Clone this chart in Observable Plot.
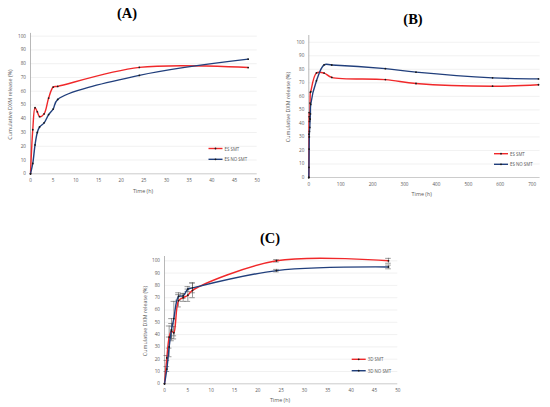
<!DOCTYPE html>
<html><head><meta charset="utf-8">
<script src="https://cdn.jsdelivr.net/npm/d3@7"></script>
<script src="https://cdn.jsdelivr.net/npm/@observablehq/plot@0.6"></script>
<style>
html,body{margin:0;padding:0;background:#fff;}
body{width:550px;height:407px;position:relative;overflow:hidden;font-family:"Open Sans",sans-serif;}
.panel{position:absolute;}
#overlay{position:absolute;left:0;top:0;pointer-events:none;}
</style></head><body>
<script>
// ---------- data ----------
const timeA = [0, 0.5, 1, 1.5, 2, 3, 4, 5, 6, 24, 48];
const esSmtA = [0, 32, 48, 45, 41.5, 43.5, 55, 63, 63.5, 77.3, 77.2];
const esNoSmtA = [0, 7.5, 21, 30, 34, 37, 43, 47, 54, 71.5, 83.3];

const timeB = [0, 0.5, 1, 1.5, 2, 3, 4, 5, 6, 24, 48, 72, 240, 336, 576, 720];
const esSmtB = [0, 32, 48, 45, 41.5, 43.5, 55, 63, 63.5, 77.3, 77.2, 74, 72.4, 69.5, 67.5, 68.6];
const esNoSmtB = [0, 7.5, 21, 30, 34, 37, 43, 47, 54, 71.5, 83.3, 83.2, 80.5, 77.9, 73.7, 72.9];

const timeC = [0, 0.5, 1, 1.5, 2, 3, 4, 5, 6, 24, 48];
const smt3D = [0, 21, 38, 43, 41.5, 67.5, 70, 72, 76, 100, 100];
const noSmt3D = [0, 12, 30, 44, 53, 71, 71.5, 77, 78, 92, 95];
const errSmt3D = [0, 2, 9, 6, 5, 5, 3, 5, 6, 1, 2];
const errNoSmt3D = [0, 2, 8, 9, 14, 3, 2, 2, 4, 1, 1.5];

const ticksA = [0, 5, 10, 15, 20, 25, 30, 35, 40, 45, 50];
const ticksB = [0, 100, 200, 300, 400, 500, 600, 700];
const ticksY = [0, 10, 20, 30, 40, 50, 60, 70, 80, 90, 100];

const labelsA = ["ES SMT", "ES NO SMT"];
const labelsC = ["3D SMT", "3D NO SMT"];
const RED = "#f0282a", BLUE = "#213f7c";

function rows(times, vals, series, errs) {
  return times.map((t, i) => ({t, v: vals[i], series, e: errs ? errs[i] : 0}));
}

function panel({left, top, width, height, mt, mr, mb, ml, xDomain, xTicks, yDomain, s1, s2, withErr}) {
  const data = [...s1, ...s2];
  const marks = [
    Plot.gridY(ticksY.slice(1), {stroke: "#e3e3e3", strokeOpacity: 1, strokeWidth: 0.5}),
    Plot.ruleY([0], {stroke: "#bfbfbf", strokeWidth: 0.8}),
    Plot.ruleX([0], {stroke: "#a6a6a6", strokeWidth: 0.8}),
    Plot.axisX({ticks: xTicks, tickSize: 0, tickPadding: 5, label: null, tickFormat: d => d}),
    Plot.axisY({ticks: ticksY, tickSize: 0, tickPadding: 4.5, label: null, tickFormat: d => d})
  ];
  if (withErr) {
    const ed = data.filter(d => d.e > 0);
    marks.push(
      Plot.ruleX(ed, {x: "t", y1: d => d.v - d.e, y2: d => d.v + d.e, stroke: "#555", strokeWidth: 0.6}),
      Plot.ruleY(ed, {y: d => d.v - d.e, x1: d => d.t - 0.6, x2: d => d.t + 0.6, stroke: "#555", strokeWidth: 0.6}),
      Plot.ruleY(ed, {y: d => d.v + d.e, x1: d => d.t - 0.6, x2: d => d.t + 0.6, stroke: "#555", strokeWidth: 0.6})
    );
  }
  marks.push(
    Plot.line(s1, {x: "t", y: "v", stroke: RED, strokeWidth: 1.4, curve: "catmull-rom"}),
    Plot.line(s2, {x: "t", y: "v", stroke: BLUE, strokeWidth: 1.4, curve: "catmull-rom"}),
    Plot.dot(data, {x: "t", y: "v", r: 0.9, fill: "#1a1a1a", stroke: "none"})
  );
  const svg = Plot.plot({
    width, height, marginTop: mt, marginRight: mr, marginBottom: mb, marginLeft: ml,
    x: {domain: xDomain},
    y: {domain: yDomain},
    style: {fontSize: "4.6px", fontFamily: "'Open Sans', sans-serif", color: "#595959", background: "transparent", overflow: "visible"},
    marks
  });
  svg.classList.add("panel");
  svg.style.left = left + "px";
  svg.style.top = top + "px";
  document.body.appendChild(svg);
}

panel({left: 0, top: 0, width: 275, height: 215, mt: 32.9, mr: 18.3, mb: 41.7, ml: 30,
  xDomain: [0, 50], xTicks: ticksA, yDomain: [0, 102],
  s1: rows(timeA, esSmtA, labelsA[0]), s2: rows(timeA, esNoSmtA, labelsA[1])});

panel({left: 275, top: 0, width: 275, height: 215, mt: 35, mr: 10.4, mb: 38, ml: 33.3,
  xDomain: [0, 725], xTicks: ticksB, yDomain: [0, 105],
  s1: rows(timeB, esSmtB, labelsA[0]), s2: rows(timeB, esNoSmtB, labelsA[1])});

panel({left: 130, top: 220, width: 290, height: 187, mt: 36, mr: 22.7, mb: 23.7, ml: 34,
  xDomain: [0, 50], xTicks: ticksA, yDomain: [0, 103.5], withErr: true,
  s1: rows(timeC, smt3D, labelsC[0], errSmt3D), s2: rows(timeC, noSmt3D, labelsC[1], errNoSmt3D)});

// ---------- overlay: titles, axis titles, legends ----------
const ov = d3.select(document.body).append("svg").attr("id", "overlay")
  .attr("width", 550).attr("height", 407);

const titles = [["(A)", 127, 12.5], ["(B)", 413, 19], ["(C)", 270, 238]];
ov.selectAll("text.title").data(titles).join("text")
  .attr("x", d => d[1]).attr("y", d => d[2])
  .attr("text-anchor", "middle").attr("dominant-baseline", "central")
  .attr("font-family", "'Liberation Serif', serif").attr("font-weight", "bold").attr("font-size", 14.5)
  .attr("fill", "#000").text(d => d[0]);

const xTitles = [[143, 191], [421.7, 194], [280, 400]];
ov.selectAll("text.xt").data(xTitles).join("text")
  .attr("x", d => d[0]).attr("y", d => d[1])
  .attr("text-anchor", "middle").attr("dominant-baseline", "central")
  .attr("font-family", "'Open Sans', sans-serif").attr("font-size", 5.4).attr("fill", "#595959")
  .text("Time (h)");

const yTitles = [[10, 104.5], [288, 107], [145, 321]];
ov.selectAll("text.yt").data(yTitles).join("text")
  .attr("transform", d => `translate(${d[0]},${d[1]}) rotate(-90)`)
  .attr("text-anchor", "middle").attr("dominant-baseline", "central")
  .attr("font-family", "'Open Sans', sans-serif").attr("font-size", 5.4).attr("fill", "#595959")
  .text("Cumulative DXM release (%)");

const legends = [
  {x: 208.5, y: 148.5, labels: labelsA},
  {x: 494, y: 153.7, labels: labelsA},
  {x: 351.7, y: 359.3, labels: labelsC}
];
legends.forEach(L => {
  const gap = L === legends[0] ? 10.8 : (L === legends[1] ? 10.6 : 11.4);
  [RED, BLUE].forEach((c, i) => {
    const y = L.y + i * gap;
    ov.append("line").attr("x1", L.x).attr("x2", L.x + 14).attr("y1", y).attr("y2", y)
      .attr("stroke", c).attr("stroke-width", 1.4);
    ov.append("circle").attr("cx", L.x + 7).attr("cy", y).attr("r", 0.9).attr("fill", "#1a1a1a");
    ov.append("text").attr("x", L.x + 16).attr("y", y).attr("dominant-baseline", "central")
      .attr("font-family", "'Open Sans', sans-serif").attr("font-size", 4.4).attr("fill", "#595959")
      .text(L.labels[i]);
  });
});
</script>
</body></html>
